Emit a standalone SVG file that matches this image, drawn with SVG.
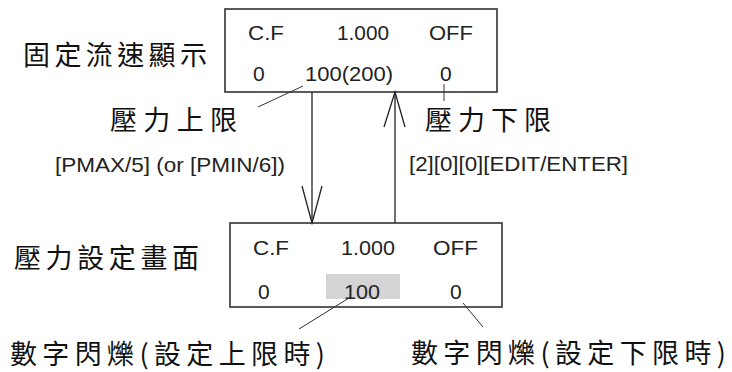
<svg xmlns="http://www.w3.org/2000/svg" width="732" height="372" viewBox="0 0 732 372">
<style>
.box{fill:#fff;stroke:#333;stroke-width:1.6}
.t{font-family:"Liberation Sans",Arial,sans-serif;font-size:21px;fill:#222}
.c{font-family:"Noto Sans CJK TC","Noto Sans CJK SC",sans-serif;font-size:27px;fill:#111}
.ln{stroke:#222;stroke-width:1.3;fill:none}
.ld{stroke:#333;stroke-width:1;fill:none}
</style>
<g id="node-fixed-flow">
<rect class="box" x="225" y="9" width="272" height="83"/>
<text class="t" x="248" y="40" textLength="36" lengthAdjust="spacingAndGlyphs">C.F</text>
<text class="t" x="337" y="40" textLength="52" lengthAdjust="spacingAndGlyphs">1.000</text>
<text class="t" x="429" y="40" textLength="44" lengthAdjust="spacingAndGlyphs">OFF</text>
<text class="t" x="253" y="81">0</text>
<text class="t" x="305" y="81" textLength="88" lengthAdjust="spacingAndGlyphs">100(200)</text>
<text class="t" x="440" y="81">0</text>
</g>
<g id="node-pressure-set">
<rect class="box" x="230" y="223" width="272" height="84"/>
<rect x="326" y="274" width="74" height="25" fill="#d4d4d4"/>
<text class="t" x="253" y="255" textLength="36" lengthAdjust="spacingAndGlyphs">C.F</text>
<text class="t" x="341" y="255" textLength="54" lengthAdjust="spacingAndGlyphs">1.000</text>
<text class="t" x="433" y="255" textLength="45" lengthAdjust="spacingAndGlyphs">OFF</text>
<text class="t" x="258" y="299">0</text>
<text class="t" x="344" y="299" textLength="36" lengthAdjust="spacingAndGlyphs">100</text>
<text class="t" x="450" y="299">0</text>
</g>
<g id="label-fixed-flow"><text class="c" x="23" y="65" textLength="184" lengthAdjust="spacing">固定流速顯示</text></g>
<g id="label-upper"><text class="c" x="110" y="130" textLength="127" lengthAdjust="spacing">壓力上限</text></g>
<g id="label-lower"><text class="c" x="425" y="130" textLength="126" lengthAdjust="spacing">壓力下限</text></g>
<g id="label-pressure-set"><text class="c" x="14" y="268" textLength="185" lengthAdjust="spacing">壓力設定畫面</text></g>
<g id="label-blink-upper"><text class="c" x="10" y="364" textLength="315" lengthAdjust="spacing">數字閃爍(設定上限時)</text></g>
<g id="label-blink-lower"><text class="c" x="411" y="363" textLength="315" lengthAdjust="spacing">數字閃爍(設定下限時)</text></g>
<g id="label-keys-down"><text class="t" x="55" y="172" textLength="230" lengthAdjust="spacingAndGlyphs">[PMAX/5] (or [PMIN/6])</text></g>
<g id="label-keys-up"><text class="t" x="409" y="171" textLength="219" lengthAdjust="spacingAndGlyphs">[2][0][0][EDIT/ENTER]</text></g>
<g id="connectors">
<line class="ln" x1="312" y1="92" x2="312" y2="223"/>
<polyline class="ln" points="302,186 312,223 322,186"/>
<line class="ln" x1="395" y1="223" x2="395" y2="92"/>
<polyline class="ln" points="384,127 395,92 405,127"/>
<line class="ld" x1="258" y1="107" x2="303" y2="86"/>
<line class="ld" x1="444" y1="84" x2="444" y2="101"/>
<line class="ld" x1="349" y1="298" x2="299" y2="329"/>
<line class="ld" x1="463" y1="303" x2="483" y2="327"/>
</g>
</svg>
